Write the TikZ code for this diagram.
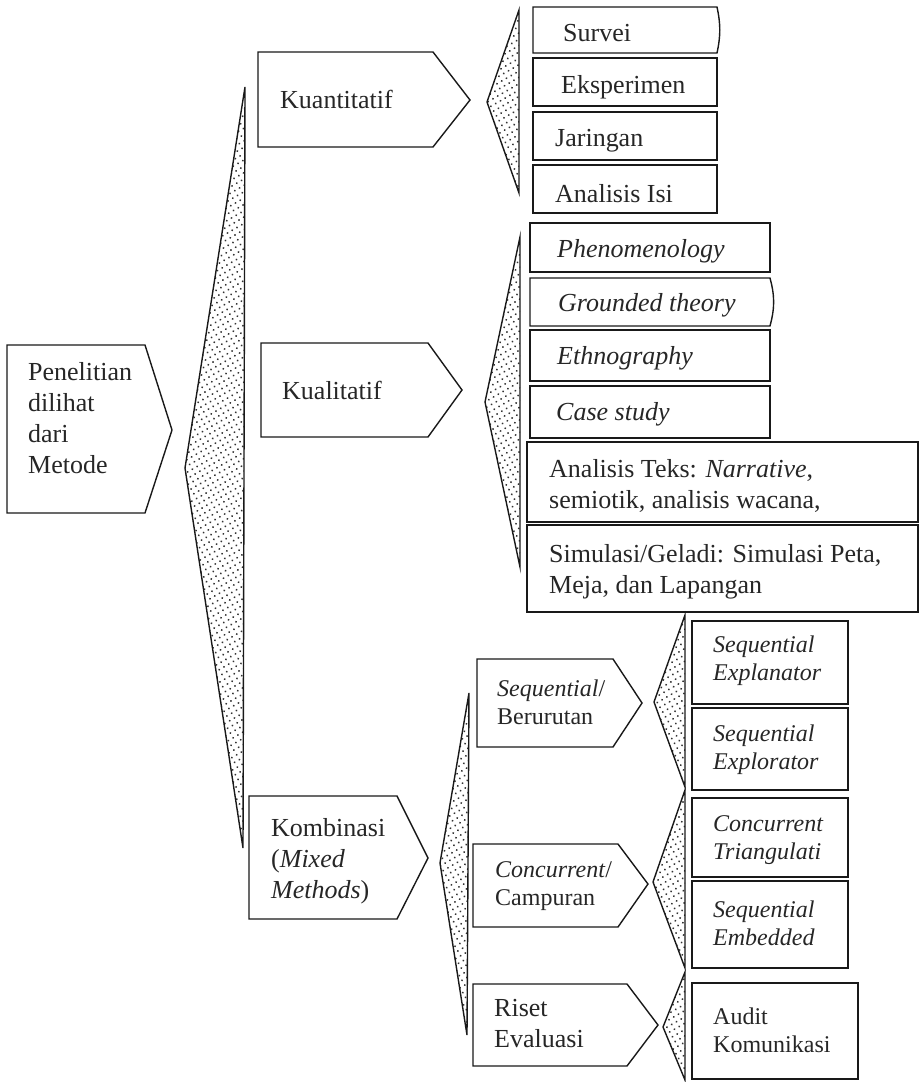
\documentclass[tikz,border=0pt]{standalone}
\usepackage{fontspec}
\setmainfont{Liberation Serif}
\usetikzlibrary{patterns.meta}
\newcommand\BigT{\fontsize{26}{31}\selectfont}
\newcommand\SmT{\fontsize{24}{28}\selectfont}
\begin{document}
\begin{tikzpicture}[x=1pt,y=-1pt,
  shp/.style={draw=black!90,line width=1.4pt,line join=miter},
  dotted tri/.style={draw=black!90,line width=1.4pt,pattern={Dots[distance=5.5pt,radius=1.05pt,angle=30]},pattern color=black!80},
  lbl/.style={inner sep=0pt,anchor=north west,align=left,font=\BigT,text=black!85},
  slbl/.style={inner sep=0pt,anchor=north west,align=left,font=\SmT,text=black!85}]
\useasboundingbox (0,0) rectangle (920,1082);
% arrow-shaped boxes
\draw[shp] (7,345) -- (145,345) -- (172,430) -- (145,513) -- (7,513) -- cycle;
\draw[shp] (258,52) -- (433,52) -- (470,100) -- (433,147) -- (258,147) -- cycle;
\draw[shp] (261,343) -- (428,343) -- (462,390) -- (428,437) -- (261,437) -- cycle;
\draw[shp] (249,796) -- (397,796) -- (428,858) -- (397,919) -- (249,919) -- cycle;
\draw[shp] (477,659) -- (613,659) -- (642,703) -- (613,747) -- (477,747) -- cycle;
\draw[shp] (473,844) -- (618,844) -- (648,884) -- (618,927) -- (473,927) -- cycle;
\draw[shp] (473,984) -- (627,984) -- (658,1025) -- (627,1066) -- (473,1066) -- cycle;
% dotted brackets
\draw[dotted tri] (245,87) -- (185,468) -- (243,848) -- cycle;
\draw[dotted tri] (519,10) -- (487,102) -- (519,193) -- cycle;
\draw[dotted tri] (520,237) -- (485,402) -- (520,567) -- cycle;
\draw[dotted tri] (469,693) -- (440,863) -- (467,1035) -- cycle;
\draw[dotted tri] (685,615) -- (654,702) -- (685,787) -- cycle;
\draw[dotted tri] (685,790) -- (653,882) -- (685,968) -- cycle;
\draw[dotted tri] (685,972) -- (663,1027) -- (685,1080) -- cycle;
% list boxes
\draw[shp] (717,53) -- (533,53) -- (533,7) -- (717,7) to[bend left=12] cycle;
\draw[shp] (533,58) rectangle (717,106);
\draw[shp] (533,112) rectangle (717,160);
\draw[shp] (533,165) rectangle (717,213);
\draw[shp] (530,223) rectangle (770,272);
\draw[shp] (770,326) -- (530,326) -- (530,278) -- (770,278) to[bend left=15] cycle;
\draw[shp] (530,330) rectangle (770,381);
\draw[shp] (530,386) rectangle (770,438);
\draw[shp] (527,442) rectangle (918,522);
\draw[shp] (527,525) rectangle (918,612);
\draw[shp] (692,621) rectangle (848,704);
\draw[shp] (692,708) rectangle (848,790);
\draw[shp] (692,798) rectangle (848,877);
\draw[shp] (692,881) rectangle (848,968);
\draw[shp] (692,983) rectangle (858,1079);
% labels
\node[lbl] (root) at (28,362) {Penelitian\\dilihat\\dari\\Metode};
\node[lbl] (kuan) at (280,90) {Kuantitatif};
\node[lbl] (kual) at (282,381) {Kualitatif};
\node[lbl] (komb) at (271,818) {Kombinasi\\(\textit{Mixed}\\\textit{Methods})};
\node[lbl] (surv) at (563,24) {Survei};
\node[lbl] (eksp) at (561,75) {Eksperimen};
\node[lbl] (jar) at (555,129) {Jaringan};
\node[lbl] (isi) at (555,184) {Analisis Isi};
\node[lbl] (phen) at (557,239) {\textit{Phenomenology}};
\node[lbl] (grou) at (558,293) {\textit{Grounded theory}};
\node[lbl] (ethn) at (557,346) {\textit{Ethnography}};
\node[lbl] (case) at (556,402) {\textit{Case study}};
\node[lbl] (teks) at (549,459) {Analisis Teks: \textit{Narrative},\\semiotik, analisis wacana,};
\node[lbl] (simu) at (549,544) {Simulasi/Geladi: Simulasi Peta,\\Meja, dan Lapangan};
\node[slbl] (seq) at (497,680) {\textit{Sequential}/\\Berurutan};
\node[slbl] (conc) at (495,861) {\textit{Concurrent}/\\Campuran};
\node[lbl] (rise) at (494,999) {Riset\\Evaluasi};
\node[slbl] (sexl) at (713,636) {\textit{Sequential}\\\textit{Explanator}};
\node[slbl] (sexr) at (713,725) {\textit{Sequential}\\\textit{Explorator}};
\node[slbl] (ctri) at (713,815) {\textit{Concurrent}\\\textit{Triangulati}};
\node[slbl] (semb) at (713,901) {\textit{Sequential}\\\textit{Embedded}};
\node[slbl] (audi) at (713,1008) {Audit\\Komunikasi};
\end{tikzpicture}
\end{document}
